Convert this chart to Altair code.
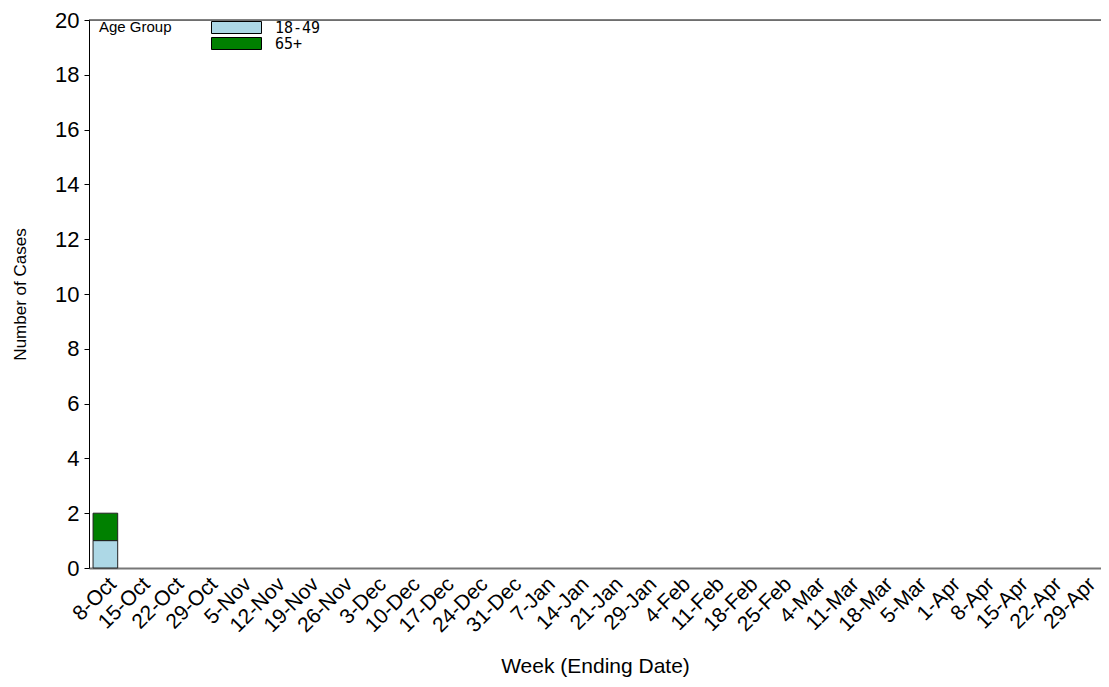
import altair as alt
import pandas as pd

weeks = ["8-Oct", "15-Oct", "22-Oct", "29-Oct", "5-Nov", "12-Nov", "19-Nov", "26-Nov",
         "3-Dec", "10-Dec", "17-Dec", "24-Dec", "31-Dec", "7-Jan", "14-Jan", "21-Jan",
         "29-Jan", "4-Feb", "11-Feb", "18-Feb", "25-Feb", "4-Mar", "11-Mar", "18-Mar",
         "5-Mar", "1-Apr", "8-Apr", "15-Apr", "22-Apr", "29-Apr"]
age_groups = ["18-49", "65+"]
cases_18_49 = [1] + [0] * 29
cases_65 = [1] + [0] * 29
colors = ["#ADD8E6", "#008000"]
y_ticks = list(range(0, 21, 2))

rows = []
for i, w in enumerate(weeks):
    rows.append({"week": w, "group": "18-49", "cases": cases_18_49[i], "ord": 0})
    rows.append({"week": w, "group": "65+", "cases": cases_65[i], "ord": 1})
df = pd.DataFrame(rows)

W, H = 1012, 548

bars = alt.Chart(df).transform_filter("datum.cases > 0").mark_bar(
    stroke="#222222", strokeWidth=1
).encode(
    x=alt.X("week:N", sort=weeks,
            scale=alt.Scale(domain=weeks, paddingInner=0.27, paddingOuter=0.12),
            axis=alt.Axis(title="Week (Ending Date)", labelAngle=-45, labelFontSize=21,
                          labelFont="Liberation Sans", labelColor="black",
                          titleFont="Liberation Sans", titleFontSize=21,
                          titleFontWeight="normal", titleColor="black", titlePadding=20,
                          ticks=False, domainColor="#777777", domainWidth=2,
                          labelPadding=5)),
    y=alt.Y("sum(cases):Q", stack="zero",
            scale=alt.Scale(domain=[0, 20], nice=False),
            axis=alt.Axis(title="Number of Cases", values=y_ticks, labelFontSize=22,
                          labelFont="Liberation Sans", labelColor="black",
                          titleFont="Liberation Sans", titleFontSize=17,
                          titleFontWeight="normal", titleColor="black", titlePadding=25,
                          grid=False, tickColor="black", tickSize=5, domainColor="black",
                          labelPadding=5)),
    color=alt.Color("group:N", scale=alt.Scale(domain=age_groups, range=colors),
                    legend=alt.Legend(title="Age Group", orient="none", legendX=10, legendY=0,
                                      titleOrient="left", titleAnchor="start",
                                      titleBaseline="top", titleFontSize=15,
                                      titleFont="Liberation Sans", titleFontWeight="normal",
                                      titleColor="black", titlePadding=57,
                                      symbolType="M-6.25,-1.5H6.25V1.5H-6.25Z", symbolSize=64,
                                      symbolStrokeColor="black", symbolStrokeWidth=1,
                                      symbolOpacity=1,
                                      labelFont="DejaVu Sans Mono", labelFontSize=15,
                                      labelColor="black", rowPadding=-3, labelOffset=31)),
    order=alt.Order("ord:Q", sort="ascending"),
)

top_rule = alt.Chart(pd.DataFrame({"a": [0]})).mark_rule(color="black", strokeWidth=1).encode(
    x=alt.value(0), x2=alt.value(W), y=alt.value(0)
)

chart = alt.layer(bars, top_rule).properties(
    width=W, height=H,
    autosize=alt.AutoSizeParams(type="none"),
    padding={"left": 81, "top": 12, "right": 0, "bottom": 109},
).configure_view(stroke=None).configure(background="white")

chart.save("out.html", embed_options={"renderer": "svg", "actions": False})
